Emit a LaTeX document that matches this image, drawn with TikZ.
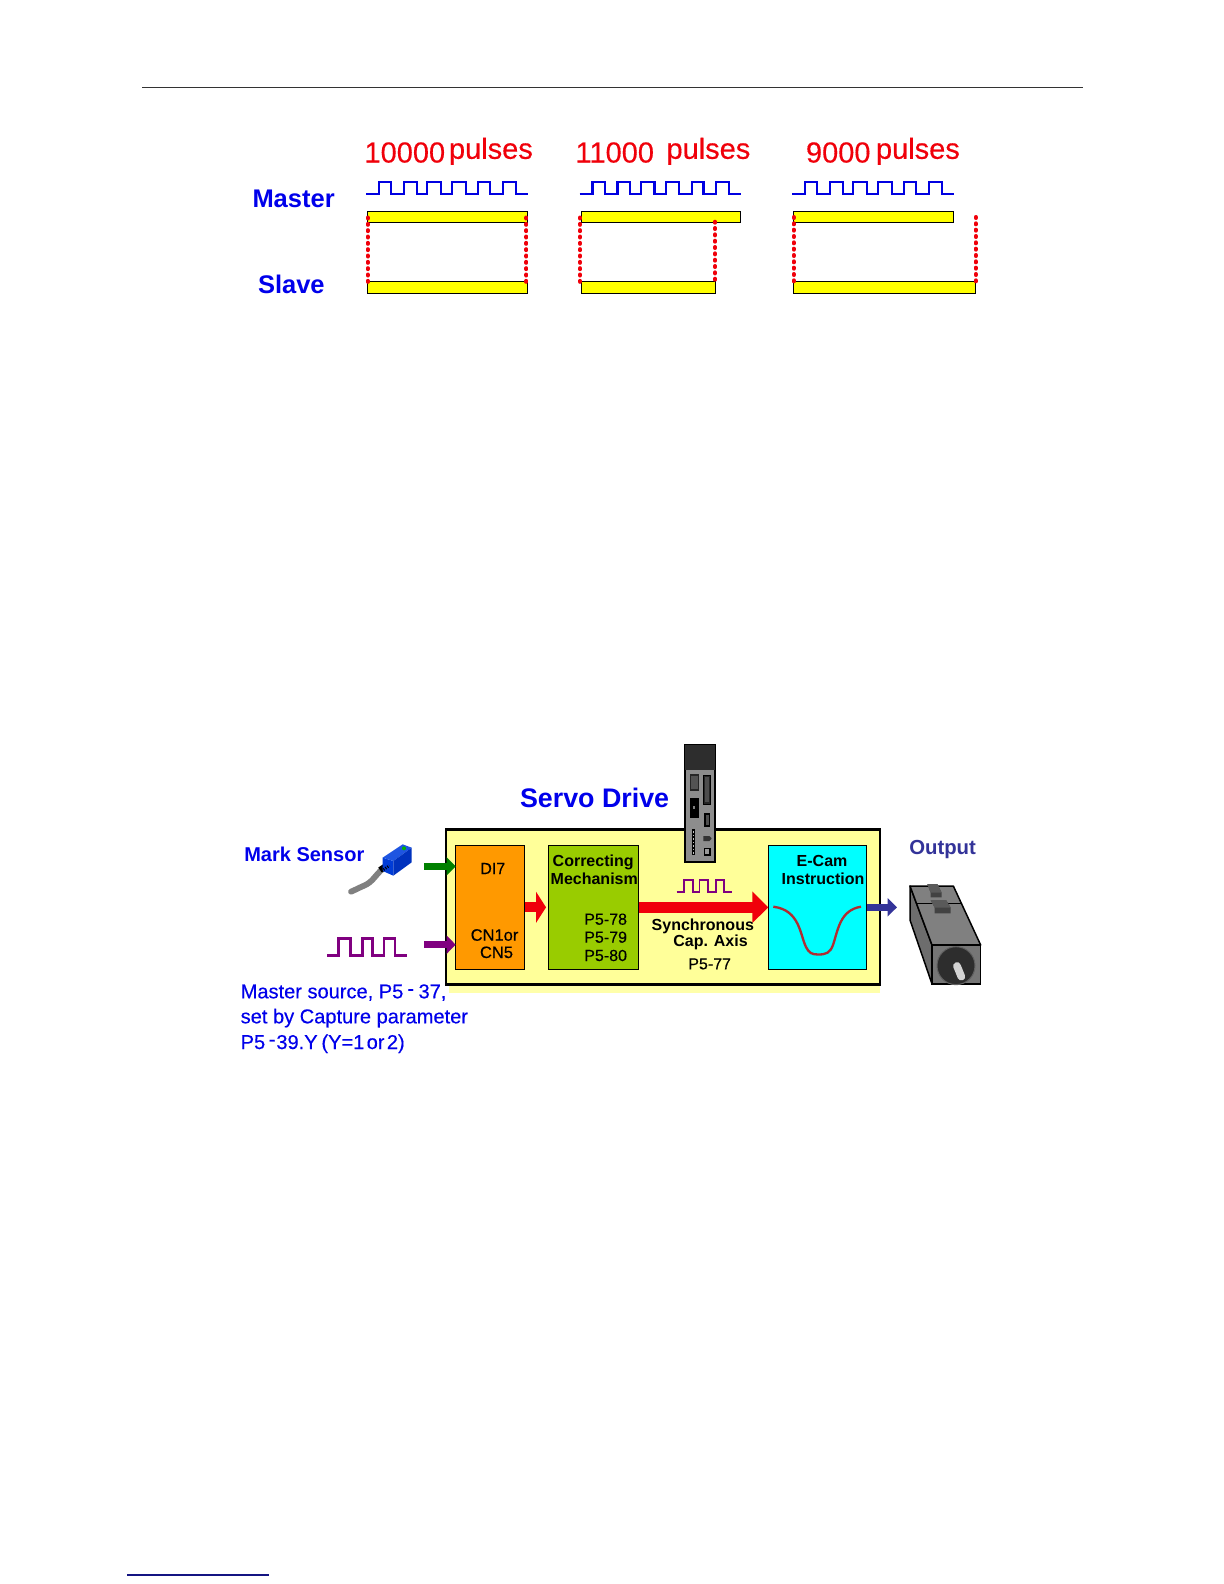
\documentclass[tikz,border=0pt]{standalone}
\usepackage{fontspec}
\setmainfont{Liberation Sans}
\newfontfamily\heavy[FakeBold=0.35]{Liberation Sans}
\usetikzlibrary{arrows.meta,calc}
\definecolor{mblue}{RGB}{0,0,235}
\definecolor{mred}{RGB}{240,0,10}
\definecolor{pulseblue}{RGB}{0,0,225}
\definecolor{navyo}{RGB}{51,51,153}
\definecolor{foot}{RGB}{20,20,130}
\definecolor{purp}{RGB}{128,0,128}
\definecolor{panel}{RGB}{255,255,153}
\definecolor{shadowy}{RGB}{255,255,170}
\definecolor{oran}{RGB}{255,153,0}
\definecolor{lime}{RGB}{153,204,0}
\definecolor{cya}{RGB}{0,255,255}
\definecolor{bary}{RGB}{255,255,0}
\definecolor{curve}{RGB}{175,45,50}
\definecolor{gr}{RGB}{128,128,128}
\definecolor{dk}{RGB}{45,45,45}
\definecolor{sens}{RGB}{0,60,215}
\definecolor{senst}{RGB}{30,85,225}
\definecolor{sensd}{RGB}{0,50,190}
\tikzset{
  x=0.6pt,y=-0.6pt,
  txt/.style={anchor=base west,inner sep=0pt,outer sep=0pt},
  redtxt/.style={txt,text=mred,font=\heavy\fontsize{17.4pt}{20pt}\selectfont},
  bluebold/.style={txt,text=mblue,font=\bfseries\fontsize{15.3pt}{18pt}\selectfont},
  marktxt/.style={txt,text=mblue,font=\bfseries\fontsize{12pt}{14pt}\selectfont},
  srctxt/.style={txt,text=mblue,font=\heavy\fontsize{12.03pt}{14pt}\selectfont},
  regtxt/.style={txt,text=black,font=\heavy\fontsize{9.6pt}{11pt}\selectfont},
  cntxt/.style={txt,text=black,font=\heavy\fontsize{9.9pt}{11pt}\selectfont},
  boldtxt/.style={txt,text=black,font=\bfseries\fontsize{9.6pt}{11pt}\selectfont},
  barbox/.style={draw=black,fill=bary,line width=0.7pt,inner sep=0pt,outer sep=0pt,anchor=north west},
  inbox/.style={draw=black,line width=0.6pt,inner sep=0pt,outer sep=0pt,anchor=north west},
  mpulse/.style={draw=pulseblue,line width=1.4pt},
  ppulse/.style={draw=purp},
  dots/.style={draw=mred,line width=2.4pt,line cap=round,dash pattern=on 0.6pt off 3.2pt},
}
\newcommand{\boxnode}[6]{\node[#1,minimum width=#5*0.6pt-#3*0.6pt,minimum height=#6*0.6pt-#4*0.6pt] (#2) at (#3,#4) {};}
\newcommand{\uphy}{\raisebox{1.8pt}{-}}
\begin{document}
\begin{tikzpicture}
\useasboundingbox (0,0) rectangle (1224,1584);
\fill[white] (0,0) rectangle (1224,1584);
% page rules
\coordinate (hl) at (142,87.3); \coordinate (hr) at (1083,87.3);
\draw[black!80,line width=0.8pt] (hl) -- (hr);
\coordinate (fl) at (127,1575); \coordinate (fr) at (269,1575);
\draw[foot,line width=0.9pt] (fl) -- (fr);

% ---------- upper diagram ----------
\node[redtxt] (t1a) at (364.5,162.5) {10000};
\node[redtxt] (t1b) at (449,158.8) {pulses};
\node[redtxt] (t2a) at (575.5,162.5) {11000};
\node[redtxt] (t2b) at (666.5,158.8) {pulses};
\node[redtxt] (t3a) at (806,162.5) {9000};
\node[redtxt] (t3b) at (876,158.8) {pulses};
\node[bluebold] (master) at (252.5,207.3) {Master};
\node[bluebold] (slave) at (258,293.7) {Slave};

\foreach \o/\n in {0/a,213.5/b,426/c}{
  \draw[mpulse,shift={(\o,0)}] (366,193.7) -- (379,193.7) -- (379,181.7) -- (391.3,181.7) -- (391.3,193.7)
    -- (404,193.7) -- (404,181.7) -- (416.7,181.7) -- (416.7,193.7)
    -- (427.3,193.7) -- (427.3,181.7) -- (441,181.7) -- (441,193.7)
    -- (452.3,193.7) -- (452.3,181.7) -- (465.7,181.7) -- (465.7,193.7)
    -- (478.3,193.7) -- (478.3,181.7) -- (490,181.7) -- (490,193.7)
    -- (502.7,193.7) -- (502.7,181.7) -- (515.7,181.7) -- (515.7,193.7) -- (527.5,193.7);
}
\boxnode{barbox}{ma}{367.3}{211.3}{527.3}{222.3}
\boxnode{barbox}{sa}{367.3}{281.3}{527.3}{293.3}
\boxnode{barbox}{mb}{581.3}{211.3}{740.3}{222.3}
\boxnode{barbox}{sb}{581.3}{281.3}{715.7}{293.3}
\boxnode{barbox}{mc}{793.3}{211.3}{953.3}{222.3}
\boxnode{barbox}{sc}{793.3}{281.3}{975.3}{293.3}
\coordinate (d1) at (367.7,217.5); \coordinate (d2) at (367.7,283);
\coordinate (d3) at (526.4,217.5); \coordinate (d4) at (526.4,283);
\coordinate (d5) at (580,217.5);   \coordinate (d6) at (580,283);
\coordinate (d7) at (715,221.7);   \coordinate (d8) at (715,285);
\coordinate (d9) at (793.7,217);   \coordinate (d10) at (793.7,283);
\coordinate (d11) at (975.7,217);  \coordinate (d12) at (975.7,283);
\draw[dots] (d1) -- (d2);
\draw[dots] (d3) -- (d4);
\draw[dots] (d5) -- (d6);
\draw[dots] (d7) -- (d8);
\draw[dots] (d9) -- (d10);
\draw[dots] (d11) -- (d12);

% ---------- lower diagram ----------
\fill[shadowy] (449,829) rectangle (880,992.7);
\boxnode{inbox,fill=panel,line width=1.5pt}{panelbox}{446}{829.3}{880}{984.7}
\boxnode{inbox,fill=oran}{orange}{455.7}{845.3}{524.7}{969.3}
\boxnode{inbox,fill=lime}{green}{548.7}{845.3}{638.7}{969.3}
\boxnode{inbox,fill=cya}{cyan}{768.3}{845.3}{866.7}{969.3}

% block arrows
\coordinate (gs) at (424,866.3);
\coordinate (ps) at (424,944.7);
\coordinate (oe) at (897,907.3);
\draw[draw=green!50!black,line width=4.2pt,-{Triangle[length=5.4pt,width=10.6pt,fill=green!50!black]}] (gs) -- (gs -| orange.west);
\draw[draw=purp,line width=4.2pt,-{Triangle[length=5.4pt,width=10.6pt,fill=purp]}] (ps) -- (ps -| orange.west);
\draw[draw=mred,line width=6pt,-{Triangle[length=6pt,width=18.4pt,fill=mred]},shorten >=1.6pt] (orange.east) -- (green.west);
\draw[draw=mred,line width=6.4pt,-{Triangle[length=9.6pt,width=18.4pt,fill=mred]}] (green.east) -- (cyan.west);
\draw[draw=navyo,line width=4.2pt,-{Triangle[length=5.7pt,width=10.8pt,fill=navyo]}] (cyan.east) -- (oe);

% purple pulses
\draw[ppulse,line width=1.5pt] (327,955.3) -- (338.3,955.3) -- (338.3,938.3) -- (350.7,938.3) -- (350.7,955.3)
  -- (362.3,955.3) -- (362.3,938.3) -- (372.3,938.3) -- (372.3,955.3)
  -- (384,955.3) -- (384,938.3) -- (395,938.3) -- (395,955.3) -- (406.7,955.3);
\draw[ppulse,line width=1pt] (676.7,892.3) -- (684,892.3) -- (684,880) -- (693,880) -- (693,892.3)
  -- (699.5,892.3) -- (699.5,880) -- (708,880) -- (708,892.3)
  -- (716,892.3) -- (716,880) -- (724,880) -- (724,892.3) -- (732,892.3);

% cam curve
\draw[curve,line width=1.4pt] (773.3,906.7) .. controls (800,910) and (800,935) .. (806,947)
  .. controls (809,953) and (812,954.5) .. (818,954.5)
  .. controls (826,954.5) and (830,953) .. (833,945)
  .. controls (838,930) and (840,910) .. (861,906.7);

% labels
\node[txt,text=mblue,font=\bfseries\fontsize{16.1pt}{19pt}\selectfont] (servo) at (520,807.2) {Servo Drive};
\node[marktxt] (mark) at (244.3,861.7) {Mark Sensor};
\node[txt,text=navyo,font=\bfseries\fontsize{12.2pt}{14pt}\selectfont] (output) at (909.3,854) {Output};
\node[regtxt] (di) at (480.3,874) {DI7};
\node[cntxt] (cn1) at (470.7,940.7) {CN1or};
\node[cntxt] (cn5) at (480,958) {CN5};
\node[boldtxt] (corr) at (552.7,866.7) {Correcting};
\node[boldtxt] (mech) at (550.7,884.7) {Mechanism};
\node[regtxt] (p78) at (584.3,924.7) {P5-78};
\node[regtxt] (p79) at (584.3,942.7) {P5-79};
\node[regtxt] (p80) at (584.3,961) {P5-80};
\node[boldtxt] (sync) at (651.7,930) {Synchronous};
\node[boldtxt] (capx) at (673.3,946) {Cap. Axis};
\node[regtxt] (p77) at (688.3,969.3) {P5-77};
\node[boldtxt] (ecam) at (796.7,866) {E-Cam};
\node[boldtxt] (instr) at (781.7,884.7) {Instruction};
\node[srctxt] (src1) at (240.7,998.3) {Master source, P5\hspace{2.4pt}\uphy\hspace{2.7pt}37,};
\node[srctxt] (src2) at (240.7,1023.3) {set by Capture parameter};
\node[srctxt] (src3) at (240.7,1049) {P5\hspace{2.1pt}\uphy\hspace{0.6pt}39.Y\hspace{2.3pt}(Y=1\hspace{1.4pt}or\hspace{1.4pt}2)};

% servo drive unit
\fill[gr!90!white,draw=black,line width=1.2pt] (684.6,745) rectangle (715,861.7);
\fill[dk] (684.6,745) rectangle (715,769.5);
\draw[black!85,line width=0.8pt,fill=gr!65!black] (690.7,775) rectangle (698.3,790);
\fill[black!85,draw=black,line width=0.5pt] (703.3,775) rectangle (710,804.3);
\fill[gr!60!black] (705,777) rectangle (708.5,802);
\fill[black] (690,798.3) rectangle (699.3,818.3);
\fill[gr] (693,806) rectangle (695,809);
\fill[black] (704,813.3) rectangle (710,826.7);
\fill[gr!60!black] (705.5,815) rectangle (708.5,825);
\fill[black] (691.7,829.3) rectangle (695.3,855);
\foreach \yy in {831,834.5,838,841.5,845,848.5,852}{\fill[gr!50!white] (692.6,\yy) rectangle (694.4,\yy+1.6);}
\fill[black!80] (703.3,836) -- (709.5,836) -- (711.7,838.5) -- (709.5,841) -- (703.3,841) -- cycle;
\draw[black,line width=0.8pt,fill=gr!80!white] (704.3,848.3) rectangle (710,855);

% motor
\begin{scope}[shift={(900,870)},x=0.2pt,y=-0.2pt]
  \path[fill=gr!85!black,draw=black,line width=0.9pt,line join=round] (30,48) -- (30,150) -- (96,342) -- (96,225) -- cycle;
  \path[fill=gr,draw=black,line width=0.9pt,line join=round] (30,48) -- (160,48) -- (242,225) -- (96,225) -- cycle;
  \path[fill=gr!92!black,draw=black,line width=0.9pt] (96,225) rectangle (242,342);
  \draw[black,line width=0.6pt] (50,100) -- (184,100);
  \path[fill=dk!90!white] (82,42) -- (112,42) -- (125,68) -- (125,82) -- (92,82) -- (92,68) -- cycle;
  \path[fill=gr!70!black] (82,42) -- (112,42) -- (125,68) -- (92,68) -- cycle;
  \path[fill=dk!90!white] (92,90) -- (138,90) -- (152,113) -- (152,130) -- (104,130) -- (104,113) -- cycle;
  \path[fill=gr!70!black] (92,90) -- (138,90) -- (152,113) -- (104,113) -- cycle;
  \path[fill=dk,draw=gr!75!black,line width=0.6pt] (168,287) circle[radius=57];
  \draw[gr!35!white,line width=4.6pt,line cap=round] (171,288) -- (184,320);
\end{scope}

% sensor
\begin{scope}[shift={(340,835)},x=0.2pt,y=-0.2pt]
  \draw[gr,line width=3.5pt,line cap=round] (130,100) .. controls (105,120) and (100,140) .. (72,152) .. controls (58,158) and (45,165) .. (33,170);
  \draw[black,line width=3.6pt] (120,105) -- (142,90);
  \fill[sens] (128,68) -- (160,78) -- (160,122) -- (128,108) -- cycle;
  \fill[senst] (128,68) -- (188,28) -- (215,38) -- (160,78) -- cycle;
  \fill[sensd] (160,78) -- (215,38) -- (215,82) -- (160,122) -- cycle;
  \fill[green!70!black] (192,40) circle[radius=6];
  \draw[black,line width=1.6pt,dash pattern=on 0.6pt off 0.8pt] (125,108) -- (148,92);
\end{scope}
\end{tikzpicture}
\end{document}
